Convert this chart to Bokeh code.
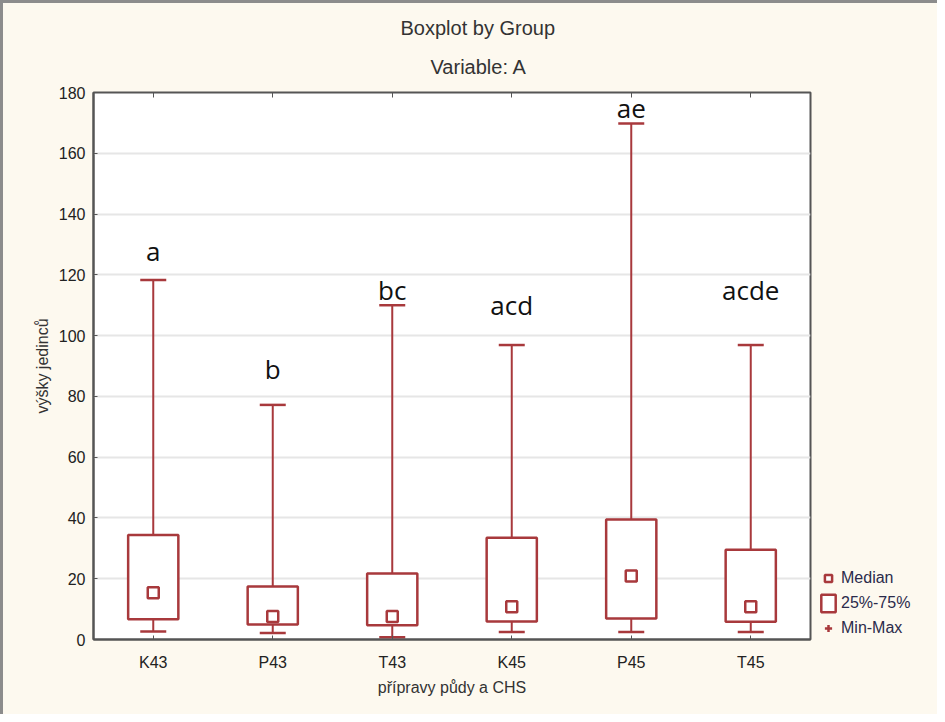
from bokeh.plotting import figure
from bokeh.layouts import row
from bokeh.models import (ColumnDataSource, Title, CategoricalAxis, Legend, LegendItem,
                          FixedTicker, Range1d)
from bokeh.core.properties import value
from bokeh.embed import file_html
from bokeh.resources import INLINE

# ---- data ----
groups = ["K43", "P43", "T43", "K45", "P45", "T45"]
mins = [2.6, 2.1, 0.7, 2.5, 2.5, 2.5]
q1 = [6.7, 4.9, 4.7, 5.9, 6.9, 5.8]
medians = [15.4, 7.6, 7.6, 10.8, 20.9, 10.8]
q3 = [34.4, 17.4, 21.7, 33.5, 39.5, 29.5]
maxs = [118.3, 77.2, 110.0, 96.9, 169.8, 96.9]
letters = ["a", "b", "bc", "acd", "ae", "acde"]
letter_y = [128, 89, 115, 110, 175, 115]
y_ticks = [0, 20, 40, 60, 80, 100, 120, 140, 160, 180]
legend_labels = ["Median", "25%-75%", "Min-Max"]

RED = "#a8393c"
CREAM = "#fdf9ef"
FONT = "Liberation Sans"

src = ColumnDataSource(dict(g=groups, lo=mins, q1=q1, med=medians, q3=q3, hi=maxs,
                            lab=letters, ly=letter_y))

p = figure(x_range=groups, y_range=Range1d(0, 180), width=815, height=711,
           output_backend="svg", toolbar_location=None, title=None,
           min_border_left=90, min_border_top=89, min_border_right=8, min_border_bottom=75)
p.background_fill_color = "white"
p.border_fill_color = CREAM
p.outline_line_color = "#555555"
p.outline_line_width = 2
p.x_range.range_padding = 0

# whiskers
p.segment(x0="g", y0="q3", x1="g", y1="hi", source=src, line_color=RED, line_width=2)
p.segment(x0="g", y0="lo", x1="g", y1="q1", source=src, line_color=RED, line_width=2)
p.scatter(x="g", y="hi", source=src, marker="dash", size=26, line_color=RED, line_width=2.5)
p.scatter(x="g", y="lo", source=src, marker="dash", size=26, line_color=RED, line_width=2.5)
# boxes
p.vbar(x="g", top="q3", bottom="q1", width=0.42, source=src,
       fill_color="white", line_color=RED, line_width=2.5)
# medians
p.scatter(x="g", y="med", source=src, marker="square", size=11,
          fill_color="white", line_color=RED, line_width=2.5)
# significance letters
p.text(x="g", y="ly", text="lab", source=src, text_align="center", text_baseline="middle",
       text_font=value("Open Sans"), text_font_size="26px", text_color="#111111")

# axes
p.yaxis.ticker = FixedTicker(ticks=y_ticks)
for ax in (p.xaxis[0], p.yaxis[0]):
    ax.major_label_text_font = FONT
    ax.major_label_text_font_size = "16px"
    ax.major_label_text_color = "#222222"
    ax.axis_label_text_font = FONT
    ax.axis_label_text_font_size = "16px"
    ax.axis_label_text_font_style = "normal"
    ax.axis_label_text_color = "#333333"
    ax.axis_line_color = "#555555"
    ax.axis_line_width = 2
    ax.major_tick_in = 4
    ax.major_tick_out = 0
    ax.major_tick_line_color = "#555555"
    ax.minor_tick_line_color = None
p.xaxis.axis_label = "přípravy půdy a CHS"
p.yaxis.axis_label = "výšky jedinců"
p.xaxis.major_label_standoff = 14
p.yaxis.major_label_standoff = 8
p.xgrid.grid_line_color = None
p.ygrid.grid_line_color = "#e6e6e6"
p.ygrid.grid_line_width = 2

top_ax = CategoricalAxis(axis_line_color=None, major_label_text_color=None,
                         major_tick_in=5, major_tick_out=0, major_tick_line_color="#555555",
                         major_label_standoff=0)
p.add_layout(top_ax, "above")

p.add_layout(Title(text="Variable: A", align="left", text_font=FONT, text_font_size="20px",
                   text_font_style="normal", text_color="#333333", standoff=30, offset=337), "above")
p.add_layout(Title(text="Boxplot by Group", align="left", text_font=FONT, text_font_size="20px",
                   text_font_style="normal", text_color="#333333", standoff=0, offset=307), "above")

# ---- legend panel (separate small figure to the right) ----
lg = figure(width=119, height=711, output_backend="svg", toolbar_location=None,
            x_axis_type=None, y_axis_type=None, x_range=Range1d(0, 1), y_range=Range1d(0, 1),
            min_border_left=0, min_border_right=0, min_border_top=0, min_border_bottom=0)
lg.background_fill_color = CREAM
lg.border_fill_color = CREAM
lg.outline_line_color = None
proxy = ColumnDataSource(dict(x=[float("nan")], y=[float("nan")]))
r_med = lg.scatter(x="x", y="y", source=proxy, marker="square", size=11,
                   fill_color="white", line_color=RED, line_width=2.5)
r_box = lg.vbar(x="x", top="y", bottom="y", width=0.2, source=proxy,
                fill_color="white", line_color=RED, line_width=2.5)
r_mm = lg.scatter(x="x", y="y", source=proxy, marker="cross", size=18,
                  line_color=RED, line_width=2.5)
legend = Legend(items=[LegendItem(label=legend_labels[0], renderers=[r_med]),
                       LegendItem(label=legend_labels[1], renderers=[r_box]),
                       LegendItem(label=legend_labels[2], renderers=[r_mm])],
                location=(1, 0), background_fill_alpha=0, border_line_color=None,
                label_text_font=FONT, label_text_font_size="16px", label_text_color="#2b2b4b",
                glyph_width=18, glyph_height=22, label_height=22, spacing=3, padding=2,
                label_standoff=4, margin=0)
lg.add_layout(legend, "center")

layout = row(p, lg, spacing=0)
layout.styles = {"border-top": "3px solid #8c8c8c", "border-left": "3px solid #8c8c8c",
                 "background-color": CREAM}

open("out.html", "w").write(file_html(layout, INLINE))
